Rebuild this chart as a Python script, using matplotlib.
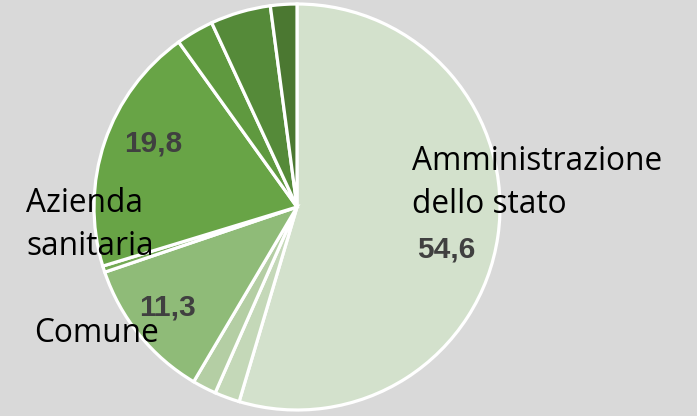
import matplotlib.pyplot as plt

# quote per tipo di ente
enti = ['Amministrazione\ndello stato', 'a', 'b', 'Comune', 'Azienda\nsanitaria',
        'c', 'd', 'e', 'f']
quote = [54.6, 2.0, 1.9, 11.3, 0.5, 19.8, 3.0, 4.8, 2.1]
colori = ['#d3e1cc', '#c4d8b8', '#b4cea4', '#8fbb78', '#74aa55',
          '#68a446', '#5f993f', '#558a39', '#4b7831']

plt.rcParams['font.family'] = ['Open Sans', 'DejaVu Sans']

fig = plt.figure(figsize=(6.97, 4.16), dpi=100)
fig.patch.set_facecolor('#d9d9d9')
ax = fig.add_axes([0, 0, 1, 1])
ax.set_facecolor('#d9d9d9')

ax.pie(quote, colors=colori, startangle=90, counterclock=False,
       center=(297, 209), radius=203, frame=True,
       wedgeprops=dict(edgecolor='white', linewidth=2.3))
ax.set_xlim(0, 697)
ax.set_ylim(0, 416)
ax.set_aspect('equal')
ax.axis('off')

# etichette delle categorie (una riga per testo)
def etichetta(x, y, testo):
    for i, riga in enumerate(testo.split('\n')):
        ax.text(x, y - i * 43, riga, fontsize=22.8, color='black',
                va='baseline', ha='left')

etichetta(412, 246, enti[0])
etichetta(26, 204, enti[4])
etichetta(34, 74, enti[3])

# valori
def fmt(v):
    return ('%.1f' % v).replace('.', ',')

for x, y, v in [(417, 159, quote[0]), (124, 264, quote[5]), (139, 101, quote[3])]:
    ax.text(x, y, fmt(v), fontsize=21.5, fontweight='bold', color='#404040',
            va='baseline', ha='left', family='Liberation Sans')

fig.savefig('out.png', dpi=100, facecolor=fig.get_facecolor())
